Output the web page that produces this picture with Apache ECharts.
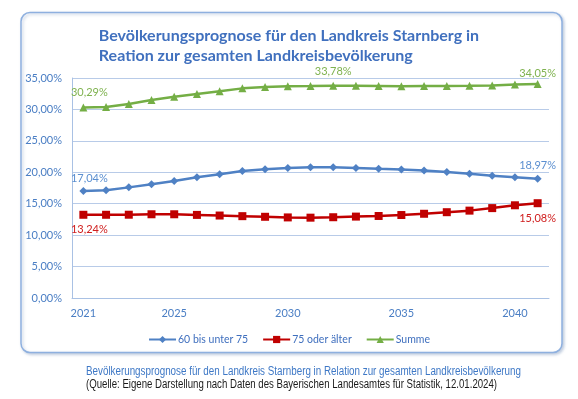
<!DOCTYPE html>
<html><head><meta charset="utf-8">
<script src="https://cdn.jsdelivr.net/npm/echarts@6/dist/echarts.min.js"></script>
<style>html,body{margin:0;padding:0;background:#fff}#c{width:578px;height:399px}</style>
</head><body><div id="c"></div>
<script>
const years = ['2021','2022','2023','2024','2025','2026','2027','2028','2029','2030','2031','2032','2033','2034','2035','2036','2037','2038','2039','2040','2041'];
const yTicks = [0,5,10,15,20,25,30,35];
const s60bis75 = [17.04,17.16,17.6,18.1,18.6,19.2,19.7,20.2,20.5,20.7,20.8,20.8,20.7,20.55,20.45,20.3,20.05,19.75,19.45,19.2,18.97];
const s75plus  = [13.24,13.24,13.25,13.32,13.32,13.22,13.12,13.02,12.92,12.82,12.78,12.85,12.95,13.05,13.2,13.4,13.65,13.9,14.3,14.75,15.08];
const sSumme   = [30.29,30.4,30.85,31.5,32.0,32.45,32.9,33.35,33.55,33.7,33.72,33.78,33.78,33.74,33.7,33.74,33.74,33.76,33.8,33.95,34.05];
const names = ['60 bis unter 75','75 oder älter','Summe'];
const titleLines = ['Bevölkerungsprognose für den Landkreis Starnberg in','Reation zur gesamten Landkreisbevölkerung'];
const captionLines = ['Bevölkerungsprognose für den Landkreis Starnberg in Relation zur gesamten Landkreisbevölkerung','(Quelle: Eigene Darstellung nach Daten des Bayerischen Landesamtes für Statistik, 12.01.2024)'];

const fmt = v => v.toFixed(2).replace('.',',') + '%';
const FONT = 'Lato, "Open Sans", sans-serif';
const CAPFONT = '12px "Liberation Sans", Arial, sans-serif';

function fitScale(text, font, target){
  const ctx = document.createElement('canvas').getContext('2d');
  ctx.font = font;
  return target / ctx.measureText(text).width;
}

function withLabels(arr, idxPos, color){
  return arr.map((v,i)=>{
    if(idxPos[i]){
      return {value:v, label:{show:true, position:idxPos[i].pos, offset:idxPos[i].off||[0,0], color:color, fontSize:11, fontFamily:FONT, formatter:p=>fmt(p.value)}};
    }
    return v;
  });
}
const last = years.length-1;
const chart = echarts.init(document.getElementById('c'));
chart.setOption({
  animation:false,
  graphic:[
    {type:'rect', shape:{x:21,y:12.5,width:541,height:340,r:9}, style:{fill:'#fff',stroke:'#8eb0df',lineWidth:1.5,shadowColor:'rgba(90,120,170,0.35)',shadowBlur:3,shadowOffsetX:1.5,shadowOffsetY:1.5}, z:-10},
    {type:'text', left:'center', top:26, style:{text:titleLines.join('\n'), fill:'#4070be', font:'bold 16px '+FONT, align:'center', lineHeight:20}},
    {type:'text', x:86, y:366, scaleX:fitScale(captionLines[0], CAPFONT, 435), style:{text:captionLines[0], fill:'#3e78c6', font:CAPFONT}},
    {type:'text', x:86, y:379, scaleX:fitScale(captionLines[1], CAPFONT, 411), style:{text:captionLines[1], fill:'#1a1a1a', font:CAPFONT}}
  ],
  grid:{left:72, right:29, top:78, bottom:101},
  legend:{top:329, left:'center', itemWidth:27, itemHeight:9, itemGap:14, textStyle:{color:'#3f6fbe',fontSize:10.5,fontFamily:FONT,padding:[0,0,0,-3]}, data:names},
  xAxis:{type:'category', data:years, boundaryGap:true,
    axisLine:{lineStyle:{color:'#a9c1e4'}}, axisTick:{show:false},
    axisLabel:{color:'#4a7ec4', fontSize:11, fontFamily:FONT, margin:10, interval:(i,v)=> i===0 || (+v)%5===0}},
  yAxis:{type:'value', min:yTicks[0], max:yTicks[yTicks.length-1], interval:5,
    axisLine:{show:true, lineStyle:{color:'#a9c1e4'}}, axisTick:{show:false},
    splitLine:{lineStyle:{color:'#b8cbe8'}},
    axisLabel:{color:'#4a7ec4', fontSize:11, fontFamily:FONT, margin:10, formatter:fmt}},
  series:[
    {name:names[0], type:'line', symbol:'diamond', symbolSize:8, lineStyle:{width:2.5,color:'#4f81c4'}, itemStyle:{color:'#4f81c4'},
      data:withLabels(s60bis75, {0:{pos:'top',off:[6,2]}, [last]:{pos:'top',off:[0,1]}}, '#5b8fd0')},
    {name:names[1], type:'line', symbol:'rect', symbolSize:8, lineStyle:{width:2.5,color:'#c00000'}, itemStyle:{color:'#c00000'},
      data:withLabels(s75plus, {0:{pos:'bottom',off:[6,0]}, [last]:{pos:'bottom',off:[0,1]}}, '#d02020')},
    {name:names[2], type:'line', symbol:'triangle', symbolSize:8, lineStyle:{width:2.5,color:'#74ae45'}, itemStyle:{color:'#74ae45'},
      data:withLabels(sSumme, {0:{pos:'top',off:[6,-1]}, 11:{pos:'top',off:[0,0]}, [last]:{pos:'top',off:[0,4]}}, '#7fb24f')}
  ]
});
</script></body></html>
